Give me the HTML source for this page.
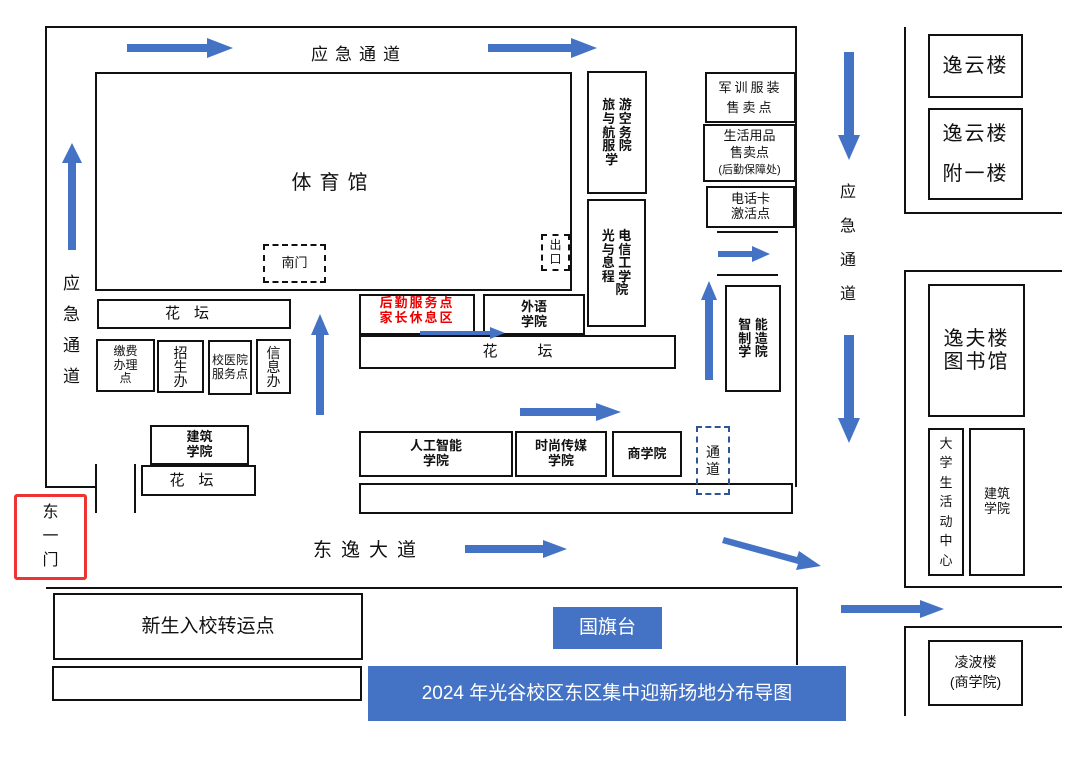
<!DOCTYPE html>
<html><head><meta charset="utf-8"><style>
body{margin:0;width:1080px;height:758px;background:#fff;position:relative;overflow:hidden;font-family:"Liberation Sans","Noto Sans CJK SC",sans-serif;color:#111}
.b{position:absolute;border:2px solid #111;box-sizing:border-box;display:flex;align-items:center;justify-content:center;text-align:center;line-height:1.15;background:#fff}
.d{border-style:dashed}
.l{position:absolute;background:#111}
.t{position:absolute;white-space:nowrap}
svg{position:absolute;left:0;top:0}
</style></head><body>
<div class="l" style="left:46px;top:26px;width:751px;height:2px"></div>
<div class="l" style="left:45px;top:26px;width:2px;height:462px"></div>
<div class="l" style="left:45px;top:486px;width:52px;height:2px"></div>
<div class="l" style="left:95px;top:464px;width:2px;height:49px"></div>
<div class="l" style="left:134px;top:464px;width:2px;height:49px"></div>
<div class="l" style="left:795px;top:26px;width:2px;height:461px"></div>
<div class="l" style="left:46px;top:587px;width:752px;height:2px"></div>
<div class="l" style="left:796px;top:587px;width:2px;height:78px"></div>
<div class="l" style="left:904px;top:27px;width:2px;height:187px"></div>
<div class="l" style="left:904px;top:212px;width:158px;height:2px"></div>
<div class="l" style="left:904px;top:270px;width:2px;height:318px"></div>
<div class="l" style="left:904px;top:270px;width:158px;height:2px"></div>
<div class="l" style="left:904px;top:586px;width:158px;height:2px"></div>
<div class="l" style="left:904px;top:626px;width:2px;height:90px"></div>
<div class="l" style="left:904px;top:626px;width:158px;height:2px"></div>
<div class="l" style="left:717px;top:231px;width:61px;height:2px"></div>
<div class="l" style="left:717px;top:274px;width:61px;height:2px"></div>

<div class="b" style="left:95px;top:72px;width:477px;height:219px;font-size:20px;letter-spacing:8px;padding-top:4px"><div>体育馆</div></div>
<div class="b d" style="left:263px;top:244px;width:63px;height:39px;font-size:13px"><div>南门</div></div>
<div class="b d" style="left:541px;top:234px;width:29px;height:37px;font-size:12px;line-height:1.1"><div>出<br>口</div></div>
<div class="b" style="left:587px;top:71px;width:60px;height:123px;font-size:13px;font-weight:bold;line-height:1.05"><div>旅 游<br>与 空<br>航 务<br>服 院<br>学 &nbsp;&nbsp;</div></div>
<div class="b" style="left:587px;top:199px;width:59px;height:128px;font-size:13px;font-weight:bold;line-height:1.05"><div>光 电<br>与 信<br>息 工<br>程 学<br>&nbsp;&nbsp; 院</div></div>
<div class="b" style="left:705px;top:72px;width:91px;height:51px;font-size:13px;letter-spacing:3px;line-height:1.5"><div>军训服装<br>售卖点</div></div>
<div class="b" style="left:703px;top:124px;width:93px;height:58px;font-size:13px;line-height:1.3"><div>生活用品<br>售卖点<br><span style="font-size:11px">(后勤保障处)</span></div></div>
<div class="b" style="left:706px;top:186px;width:89px;height:42px;font-size:13px"><div>电话卡<br>激活点</div></div>
<div class="b" style="left:725px;top:285px;width:56px;height:107px;font-size:13px;font-weight:bold;line-height:1.05"><div>智 能<br>制 造<br>学 院</div></div>
<div class="b" style="left:97px;top:299px;width:194px;height:30px;font-size:15px;letter-spacing:14px"><div>花坛</div></div>
<div class="b" style="left:96px;top:339px;width:59px;height:53px;font-size:12px"><div>缴费<br>办理<br>点</div></div>
<div class="b" style="left:157px;top:340px;width:47px;height:53px;font-size:14px;line-height:1"><div>招<br>生<br>办</div></div>
<div class="b" style="left:208px;top:340px;width:44px;height:55px;font-size:12px;line-height:1.1"><div>校医院<br>服务点</div></div>
<div class="b" style="left:256px;top:339px;width:35px;height:55px;font-size:14px;line-height:1"><div>信<br>息<br>办</div></div>
<div class="b" style="left:359px;top:294px;width:116px;height:41px;font-size:13px;color:#e00;font-weight:bold;letter-spacing:2px;padding-bottom:8px"><div>后勤服务点<br>家长休息区</div></div>
<div class="b" style="left:483px;top:294px;width:102px;height:41px;font-size:13px;font-weight:bold"><div>外语<br>学院</div></div>
<div class="b" style="left:359px;top:335px;width:317px;height:34px;font-size:15px;letter-spacing:40px;padding-left:40px"><div>花坛</div></div>
<div class="b" style="left:150px;top:425px;width:99px;height:40px;font-size:13px;font-weight:bold"><div>建筑<br>学院</div></div>
<div class="b" style="left:141px;top:465px;width:115px;height:31px;font-size:15px;letter-spacing:14px"><div>花坛</div></div>
<div class="b" style="left:359px;top:431px;width:154px;height:46px;font-size:13px;font-weight:bold"><div>人工智能<br>学院</div></div>
<div class="b" style="left:515px;top:431px;width:92px;height:46px;font-size:13px;font-weight:bold"><div>时尚传媒<br>学院</div></div>
<div class="b" style="left:612px;top:431px;width:70px;height:46px;font-size:13px;font-weight:bold"><div>商学院</div></div>
<div class="b" style="left:359px;top:483px;width:434px;height:31px"></div>
<div class="b d" style="left:696px;top:426px;width:34px;height:69px;font-size:14px;border-color:#2f5597;background:transparent"><div>通<br>道</div></div>
<div class="b" style="left:14px;top:494px;width:73px;height:86px;border:3px solid #e33;border-radius:3px;font-size:16px;line-height:1.5"><div>东<br>一<br>门</div></div>
<div class="b" style="left:53px;top:593px;width:310px;height:67px;font-size:19px"><div>新生入校转运点</div></div>
<div class="b" style="left:52px;top:666px;width:310px;height:35px"></div>
<div class="b" style="left:553px;top:607px;width:109px;height:42px;background:#4472c4;border:none;color:#fff;font-size:19px"><div>国旗台</div></div>
<div class="b" style="left:368px;top:666px;width:478px;height:55px;background:#4472c4;border:none;color:#fff;font-size:19px"><div>2024 年光谷校区东区集中迎新场地分布导图</div></div>

<div class="b" style="left:928px;top:34px;width:95px;height:64px;font-size:20px;letter-spacing:2px"><div>逸云楼</div></div>
<div class="b" style="left:928px;top:108px;width:95px;height:92px;font-size:20px;letter-spacing:2px;line-height:2"><div>逸云楼<br>附一楼</div></div>
<div class="b" style="left:928px;top:284px;width:97px;height:133px;font-size:20px;letter-spacing:2px"><div>逸夫楼<br>图书馆</div></div>
<div class="b" style="left:928px;top:428px;width:36px;height:148px;font-size:13px;line-height:1.5"><div>大<br>学<br>生<br>活<br>动<br>中<br>心</div></div>
<div class="b" style="left:969px;top:428px;width:56px;height:148px;font-size:13px"><div>建筑<br>学院</div></div>
<div class="b" style="left:928px;top:640px;width:95px;height:66px;font-size:14px;line-height:1.4"><div>凌波楼<br>(商学院)</div></div>

<div class="t" style="left:311px;top:40px;font-size:17px;letter-spacing:7px">应急通道</div>
<div class="t" style="left:63px;top:268px;font-size:17px;line-height:31px;white-space:normal;width:20px">应急通道</div>
<div class="t" style="left:840px;top:176px;font-size:16px;line-height:34px;white-space:normal;width:20px">应急通道</div>
<div class="t" style="left:313px;top:535px;font-size:19px;letter-spacing:9px">东逸大道</div>

<svg width="1080" height="758">
<g fill="#4472c4">
<polygon points="127,44 207,44 207,38 233,48 207,58 207,52 127,52"/>
<polygon points="488,44 571,44 571,38 597,48 571,58 571,52 488,52"/>
<polygon points="68,250 68,163 62,163 72,143 82,163 76,163 76,250"/>
<polygon points="844,52 844,135 838,135 849,160 860,135 854,135 854,52"/>
<polygon points="844,335 844,418 838,418 849,443 860,418 854,418 854,335"/>
<polygon points="316,415 316,335 311,335 320,314 329,335 324,335 324,415"/>
<polygon points="420,331 490,331 490,327 505,333 490,339 490,335 420,335"/>
<polygon points="520,408 596,408 596,403 621,412 596,421 596,416 520,416"/>
<polygon points="705,380 705,300 701,300 709,281 717,300 713,300 713,380"/>
<polygon points="718,251 752,251 752,246 770,254 752,262 752,257 718,257"/>
<polygon points="465,545 543,545 543,540 567,549 543,558 543,553 465,553"/>
<polygon points="722,543 724,537 797,557 799,551 821,566 796,570 798,564"/>
<polygon points="841,605 920,605 920,600 944,609 920,618 920,613 841,613"/>
</g>
</svg>
</body></html>
